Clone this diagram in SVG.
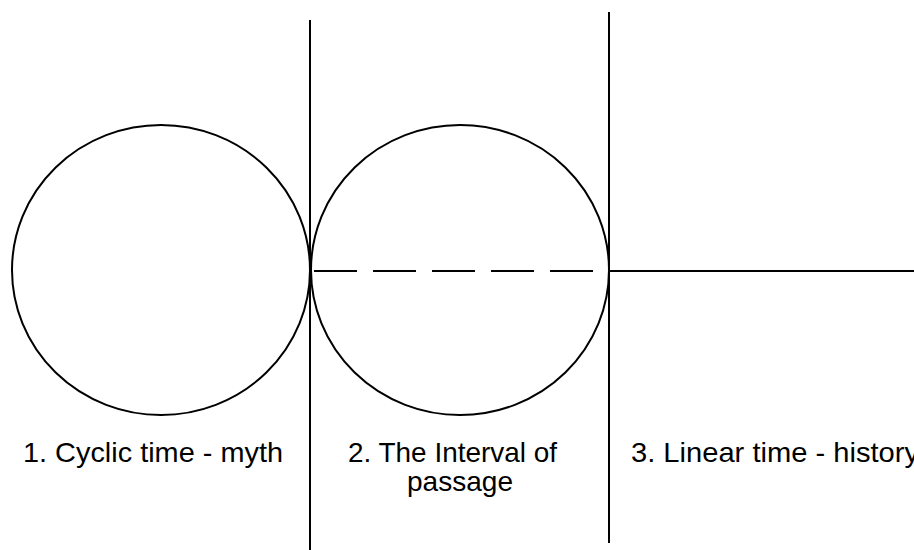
<svg xmlns="http://www.w3.org/2000/svg" width="914" height="550" viewBox="0 0 914 550">
<style>
.ln{stroke:#000;stroke-width:2;fill:none}
.lbl{font-family:"Liberation Sans",Arial,sans-serif;font-size:28px;fill:#000}
</style>
<rect width="914" height="550" fill="#fff"/>
<g id="connectors">
<line class="ln" x1="310" y1="20" x2="310" y2="550"/>
<line class="ln" x1="609" y1="12" x2="609" y2="543"/>
<line class="ln" x1="314" y1="271" x2="607" y2="271" stroke-dasharray="43 16"/>
<line class="ln" x1="609" y1="271" x2="914" y2="271"/>
</g>
<g id="cyclic">
<ellipse class="ln" cx="161" cy="270" rx="149" ry="145"/>
<text class="lbl" x="23" y="462" textLength="260" lengthAdjust="spacingAndGlyphs">1. Cyclic time - myth</text>
</g>
<g id="interval">
<ellipse class="ln" cx="460" cy="270" rx="149" ry="145"/>
<text class="lbl" x="348" y="462" textLength="209" lengthAdjust="spacingAndGlyphs">2. The Interval of</text>
<text class="lbl" x="407" y="491" textLength="106" lengthAdjust="spacingAndGlyphs">passage</text>
</g>
<g id="linear">
<text class="lbl" x="631" y="462" textLength="288" lengthAdjust="spacingAndGlyphs">3. Linear time - history</text>
</g>
</svg>
